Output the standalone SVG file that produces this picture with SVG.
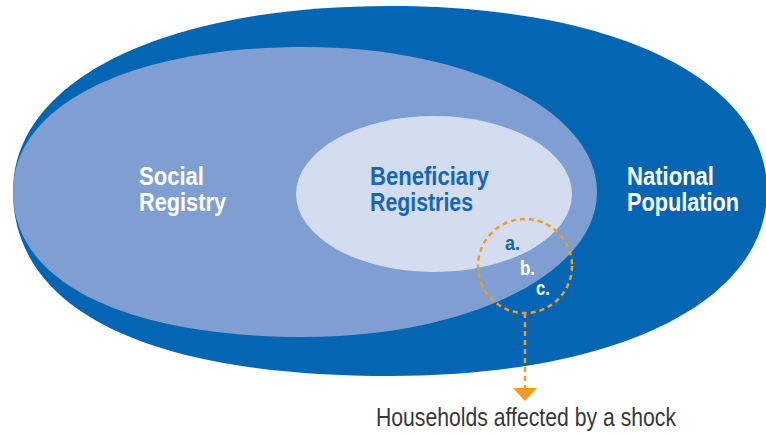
<svg xmlns="http://www.w3.org/2000/svg" width="766" height="434" viewBox="0 0 766 434">
  <style>
    .lbl { font-family: "Liberation Sans", Arial, sans-serif; font-weight: bold; font-size: 25px; }
    .white { fill: #ffffff; }
    .blue { fill: #1666b4; }
    .tag { font-family: "Liberation Sans", Arial, sans-serif; font-weight: bold; font-size: 20px; }
    .note { font-family: "Liberation Sans", Arial, sans-serif; font-size: 26px; fill: #383838; }
    .dash { fill: none; stroke: #f39a2b; stroke-width: 2.5; stroke-dasharray: 5 4; }
  </style>
  <defs>
    <marker id="arrow" viewBox="0 0 13 24" refX="0" refY="12" markerWidth="13" markerHeight="24" markerUnits="userSpaceOnUse" orient="auto">
      <polygon points="0,0 13,12 0,24" fill="#f39a2b"/>
    </marker>
  </defs>

  <!-- outermost set -->
  <g id="national-population">
    <path d="M13,191 C13,80 163.8,6 390,6 C616.2,6 767,80 767,191 C767,302 616.2,376 390,376 C148.7,376 13,311 13,191 Z" fill="#0466b2"/>
    <text class="lbl white" x="627" y="185" textLength="87" lengthAdjust="spacingAndGlyphs">National</text>
    <text class="lbl white" x="627" y="211" textLength="112" lengthAdjust="spacingAndGlyphs">Population</text>
  </g>

  <!-- middle set -->
  <g id="social-registry">
    <path d="M13,192 C13,105 130,47 305,47 C468.5,47 597,110.8 597,192 C597,273.2 468.5,337 305,337 C124,337 13,281.9 13,192 Z" fill="#7f9ed2"/>
    <text class="lbl white" x="139" y="185" textLength="65" lengthAdjust="spacingAndGlyphs">Social</text>
    <text class="lbl white" x="139" y="211" textLength="87" lengthAdjust="spacingAndGlyphs">Registry</text>
  </g>

  <!-- innermost set -->
  <g id="beneficiary-registries">
    <ellipse cx="434" cy="194" rx="138" ry="78" fill="#d4ddef"/>
    <text class="lbl blue" x="370" y="185" textLength="119" lengthAdjust="spacingAndGlyphs">Beneficiary</text>
    <text class="lbl blue" x="370" y="211" textLength="103" lengthAdjust="spacingAndGlyphs">Registries</text>
  </g>

  <!-- households hit by a shock -->
  <g id="shock">
    <circle class="dash" cx="525" cy="266" r="47"/>
    <text class="tag blue" x="505" y="250" textLength="15" lengthAdjust="spacingAndGlyphs">a.</text>
    <text class="tag white" x="520" y="275" textLength="15" lengthAdjust="spacingAndGlyphs">b.</text>
    <text class="tag white" x="536" y="295" textLength="14" lengthAdjust="spacingAndGlyphs">c.</text>
  </g>

  <g id="connectors">
    <line class="dash" x1="525" y1="313" x2="525" y2="388" marker-end="url(#arrow)"/>
  </g>

  <g id="shock-label">
    <text class="note" x="376" y="426" textLength="300" lengthAdjust="spacingAndGlyphs">Households affected by a shock</text>
  </g>
</svg>
